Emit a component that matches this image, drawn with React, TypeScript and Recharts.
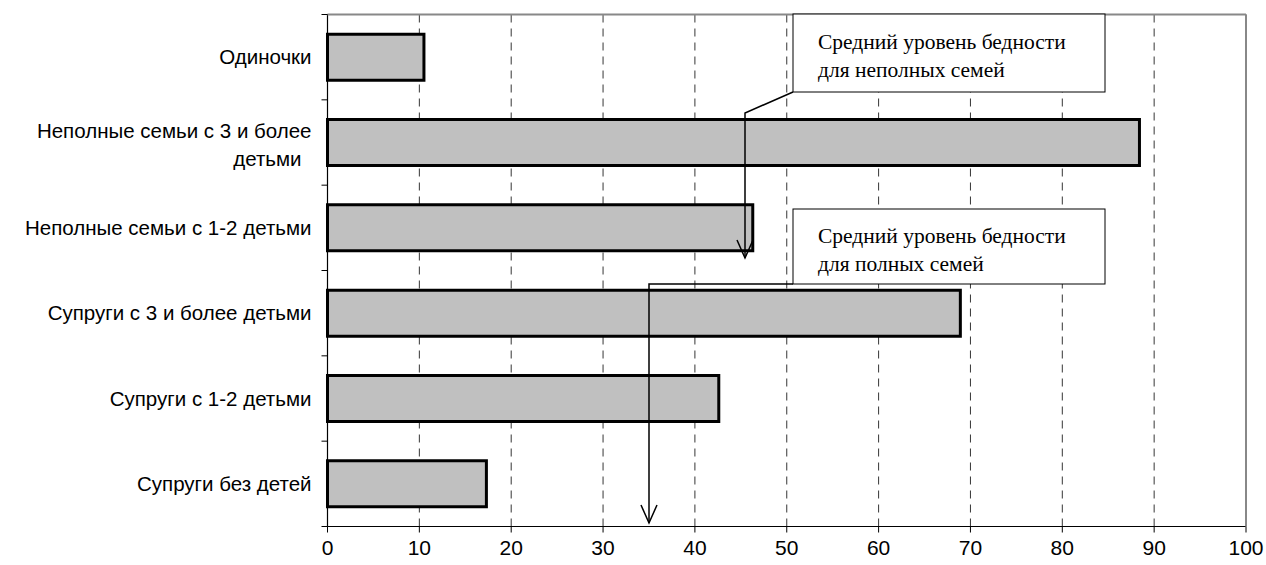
import React from 'react';
import { BarChart, Bar, XAxis, YAxis, CartesianGrid } from 'recharts';

const categories = [
  'Одиночки',
  'Неполные семьи с 3 и более детьми',
  'Неполные семьи с 1-2 детьми',
  'Супруги с 3 и более детьми',
  'Супруги с 1-2 детьми',
  'Супруги без детей',
];
const values = [10.5, 88.4, 46.3, 68.9, 42.6, 17.3];
const xTicks = [0, 10, 20, 30, 40, 50, 60, 70, 80, 90, 100];
const tickLines: Record<string, string[]> = {
  'Неполные семьи с 3 и более детьми': ['Неполные семьи с 3 и более', 'детьми'],
};

const data = categories.map((name, i) => ({ name, value: values[i] }));

const W = 1266;
const H = 565;
const LEFT = 327.5;
const TOP = 14.5;
const BOTTOM = 526.5;
const RIGHT = 1246;
const SANS = 'Liberation Sans, Arial, sans-serif';

const YTick = (props: any) => {
  const { x, y, payload } = props;
  const lines = tickLines[payload.value] || [payload.value];
  const off = -(lines.length - 1) * 12;
  return (
    <g>
      {lines.map((l, i) => (
        <text key={i} x={i === 0 ? x : x - 10} y={y + off + i * 28} dy={7} textAnchor="end"
          fontSize={20.5} fill="#000" fontFamily={SANS}>{l}</text>
      ))}
    </g>
  );
};

const XTick = (props: any) => {
  const { x, y, payload } = props;
  return (
    <text x={x} y={y} dy={20} textAnchor="middle" fontSize={21} fill="#000" fontFamily={SANS}>
      {payload.value}
    </text>
  );
};

const band = (BOTTOM - TOP) / categories.length;

export default function App() {
  return (
    <div style={{ position: 'absolute', left: 0, top: 0, width: W, height: H, background: '#fff' }}>
      <BarChart width={W} height={H} data={data} layout="vertical"
        margin={{ top: TOP, right: W - RIGHT, bottom: H - BOTTOM - 30, left: 0 }} barCategoryGap="23%">
        <CartesianGrid horizontal={false} stroke="#000" strokeDasharray="8 6" strokeWidth={0.8} />
        <XAxis type="number" domain={[0, 100]} ticks={xTicks} axisLine={{ stroke: '#000', strokeWidth: 1.2 }}
          tickLine={{ stroke: '#000' }} tickSize={6} height={30} tick={<XTick />} />
        <YAxis type="category" dataKey="name" width={LEFT} axisLine={{ stroke: '#000', strokeWidth: 1.2 }}
          tickLine={false} tick={<YTick />} tickMargin={10} interval={0} />
        <Bar dataKey="value" fill="#c0c0c0" stroke="#000" strokeWidth={3} isAnimationActive={false} />
      </BarChart>
      <svg width={W} height={H} style={{ position: 'absolute', left: 0, top: 0, pointerEvents: 'none' }}>
        <line x1={LEFT} y1={TOP} x2={RIGHT} y2={TOP} stroke="#888" strokeWidth={2} />
        <line x1={RIGHT} y1={TOP} x2={RIGHT} y2={BOTTOM} stroke="#888" strokeWidth={2} />
        {Array.from({ length: categories.length + 1 }).map((_, i) => (
          <line key={i} x1={LEFT - 6} x2={LEFT} y1={TOP + i * band} y2={TOP + i * band} stroke="#000" />
        ))}
        <g fontFamily="Liberation Serif, Times New Roman, serif" fontSize={21.5} fill="#000">
          <rect x={793} y={14} width={312} height={78} fill="#fff" stroke="#000" />
          <text x={818} y={49}>Средний уровень бедности</text>
          <text x={818} y={77}>для неполных семей</text>
          <rect x={793} y={209} width={312} height={75} fill="#fff" stroke="#000" />
          <text x={818} y={243}>Средний уровень бедности</text>
          <text x={818} y={271}>для полных семей</text>
        </g>
        <g stroke="#000" strokeWidth={1.5} fill="none">
          <polyline points="793,92 745,113 745,258" />
          <polyline points="737,240 745,258 753,240" />
          <polyline points="793,284 649,284 649,523" />
          <polyline points="641,505 649,523 657,505" />
        </g>
      </svg>
    </div>
  );
}
